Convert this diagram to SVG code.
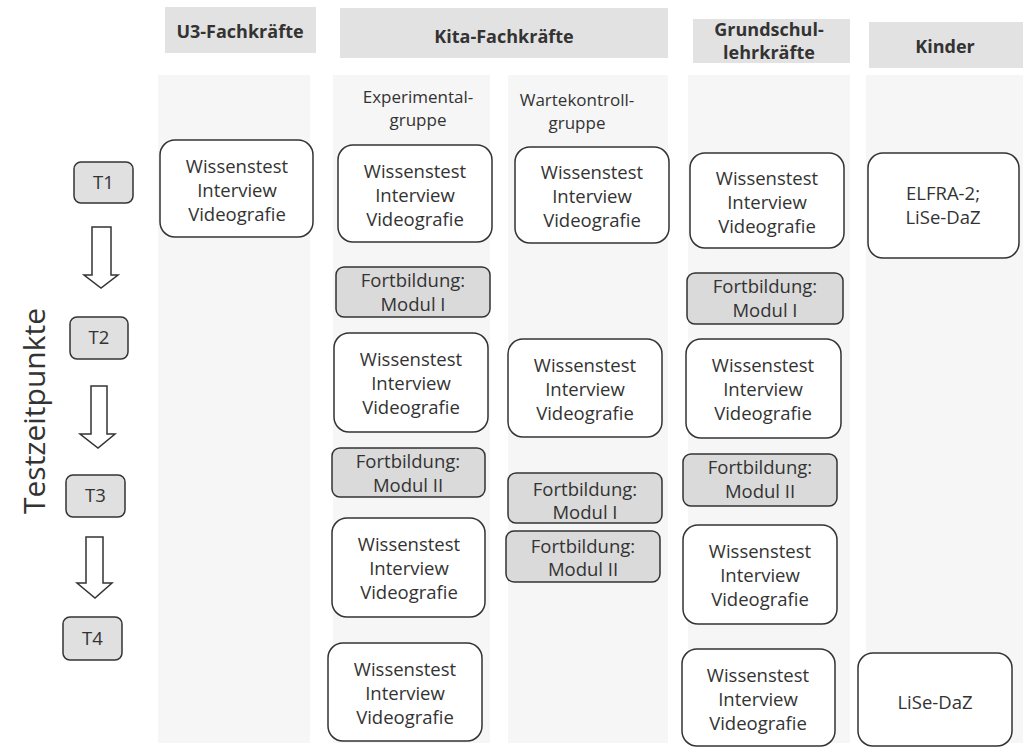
<svg xmlns="http://www.w3.org/2000/svg" width="1023" height="748" viewBox="0 0 1023 748">
<style>
text{font-family:"Open Sans","Noto Sans","Liberation Sans",sans-serif;fill:#333;text-anchor:middle}
.hdr{fill:#e2e2e2}
.col{fill:#f6f6f6}
.h{font-weight:bold;font-size:18px}
.sub{font-size:17px}
.box{fill:#fff;stroke:#333;stroke-width:1.5}
.fb{fill:#dadada;stroke:#333;stroke-width:1.5}
.tp{fill:#e0e0e0;stroke:#333;stroke-width:1.5}
.t{font-size:18.5px}
.arr{fill:#fff;stroke:#333;stroke-width:1.5;stroke-linejoin:miter}
</style>
<rect width="1023" height="748" fill="#fff"/>
<g id="columns">
<rect class="col" x="158" y="75" width="152" height="668"/>
<rect class="col" x="333" y="75" width="157" height="668"/>
<rect class="col" x="508" y="75" width="160" height="668"/>
<rect class="col" x="688" y="75" width="162" height="668"/>
<rect class="col" x="866" y="75" width="157" height="668"/>
</g>
<g id="headers">
<rect class="hdr" x="165" y="7" width="151" height="46"/>
<text class="h" x="240" y="38">U3-Fachkräfte</text>
<rect class="hdr" x="340" y="8" width="328" height="50"/>
<text class="h" x="504" y="43">Kita-Fachkräfte</text>
<rect class="hdr" x="693" y="19" width="157" height="44"/>
<text class="h" x="769" y="36">Grundschul-</text>
<text class="h" x="769" y="59">lehrkräfte</text>
<rect class="hdr" x="869" y="22" width="154" height="46"/>
<text class="h" x="945" y="53">Kinder</text>
<text class="sub" x="418" y="103">Experimental-</text>
<text class="sub" x="418" y="126">gruppe</text>
<text class="sub" x="577" y="106">Wartekontroll-</text>
<text class="sub" x="577" y="129">gruppe</text>
</g>
<g id="axis">
<text transform="translate(45,411) rotate(-90)" font-size="30px">Testzeitpunkte</text>
</g>
<g id="T1"><rect class="tp" x="74" y="162" width="59" height="41" rx="7"/><text class="t" x="103.5" y="189">T1</text></g>
<g id="T2"><rect class="tp" x="70" y="317" width="58" height="42" rx="7"/><text class="t" x="99" y="344">T2</text></g>
<g id="T3"><rect class="tp" x="66" y="475" width="59" height="42" rx="7"/><text class="t" x="95.5" y="502">T3</text></g>
<g id="T4"><rect class="tp" x="63" y="617" width="59" height="43" rx="7"/><text class="t" x="92.5" y="645">T4</text></g>
<g id="connectors">
<polygon class="arr" points="92,227 111,227 111,275 118,275 101,288 84,275 92,275"/>
<polygon class="arr" points="91,386 107,386 107,434 115,434 98,448 80,434 91,434"/>
<polygon class="arr" points="86,537 103,537 103,583 112,583 95,598 77,583 86,583"/>
</g>
<g id="u3-t1"><rect class="box" x="160" y="140" width="153" height="97" rx="15"/>
<text class="t" x="237" y="173">Wissenstest</text><text class="t" x="237" y="197">Interview</text><text class="t" x="237" y="221">Videografie</text></g>
<g id="exp-t1"><rect class="box" x="338" y="145" width="154" height="97" rx="15"/>
<text class="t" x="415" y="178">Wissenstest</text><text class="t" x="415" y="202">Interview</text><text class="t" x="415" y="226">Videografie</text></g>
<g id="wart-t1"><rect class="box" x="515" y="147" width="154" height="96" rx="15"/>
<text class="t" x="592" y="179">Wissenstest</text><text class="t" x="592" y="203">Interview</text><text class="t" x="592" y="227">Videografie</text></g>
<g id="grund-t1"><rect class="box" x="690" y="153" width="154" height="95" rx="15"/>
<text class="t" x="767" y="185">Wissenstest</text><text class="t" x="767" y="209">Interview</text><text class="t" x="767" y="233">Videografie</text></g>
<g id="kinder-t1"><rect class="box" x="868" y="153" width="151" height="105" rx="15"/>
<text class="t" x="943" y="200">ELFRA-2;</text><text class="t" x="943" y="224">LiSe-DaZ</text></g>
<g id="exp-m1"><rect class="fb" x="336" y="267" width="154" height="50" rx="8"/>
<text class="t" x="413" y="287">Fortbildung:</text><text class="t" x="413" y="311">Modul I</text></g>
<g id="grund-m1"><rect class="fb" x="687" y="273" width="156" height="51" rx="8"/>
<text class="t" x="765" y="293">Fortbildung:</text><text class="t" x="765" y="317">Modul I</text></g>
<g id="exp-t2"><rect class="box" x="334" y="333" width="154" height="99" rx="15"/>
<text class="t" x="411" y="366">Wissenstest</text><text class="t" x="411" y="390">Interview</text><text class="t" x="411" y="414">Videografie</text></g>
<g id="wart-t2"><rect class="box" x="508" y="339" width="154" height="98" rx="15"/>
<text class="t" x="585" y="372">Wissenstest</text><text class="t" x="585" y="396">Interview</text><text class="t" x="585" y="420">Videografie</text></g>
<g id="grund-t2"><rect class="box" x="686" y="339" width="155" height="99" rx="15"/>
<text class="t" x="763" y="372">Wissenstest</text><text class="t" x="763" y="396">Interview</text><text class="t" x="763" y="420">Videografie</text></g>
<g id="exp-m2"><rect class="fb" x="332" y="448" width="153" height="49" rx="8"/>
<text class="t" x="408" y="468">Fortbildung:</text><text class="t" x="408" y="492">Modul II</text></g>
<g id="grund-m2"><rect class="fb" x="683" y="454" width="154" height="52" rx="8"/>
<text class="t" x="760" y="474">Fortbildung:</text><text class="t" x="760" y="498">Modul II</text></g>
<g id="wart-m1"><rect class="fb" x="508" y="473" width="154" height="50" rx="8"/>
<text class="t" x="585" y="496">Fortbildung:</text><text class="t" x="585" y="519">Modul I</text></g>
<g id="wart-m2"><rect class="fb" x="506" y="531" width="154" height="51" rx="8"/>
<text class="t" x="583" y="553">Fortbildung:</text><text class="t" x="583" y="576">Modul II</text></g>
<g id="exp-t3"><rect class="box" x="332" y="518" width="153" height="99" rx="15"/>
<text class="t" x="409" y="551">Wissenstest</text><text class="t" x="409" y="575">Interview</text><text class="t" x="409" y="599">Videografie</text></g>
<g id="grund-t3"><rect class="box" x="683" y="525" width="154" height="99" rx="15"/>
<text class="t" x="760" y="558">Wissenstest</text><text class="t" x="760" y="582">Interview</text><text class="t" x="760" y="606">Videografie</text></g>
<g id="exp-t4"><rect class="box" x="328" y="643" width="154" height="98" rx="15"/>
<text class="t" x="405" y="676">Wissenstest</text><text class="t" x="405" y="700">Interview</text><text class="t" x="405" y="724">Videografie</text></g>
<g id="grund-t4"><rect class="box" x="682" y="649" width="153" height="97" rx="15"/>
<text class="t" x="758" y="682">Wissenstest</text><text class="t" x="758" y="706">Interview</text><text class="t" x="758" y="730">Videografie</text></g>
<g id="kinder-t4"><rect class="box" x="858" y="653" width="154" height="93" rx="15"/>
<text class="t" x="935" y="709">LiSe-DaZ</text></g>
</svg>
